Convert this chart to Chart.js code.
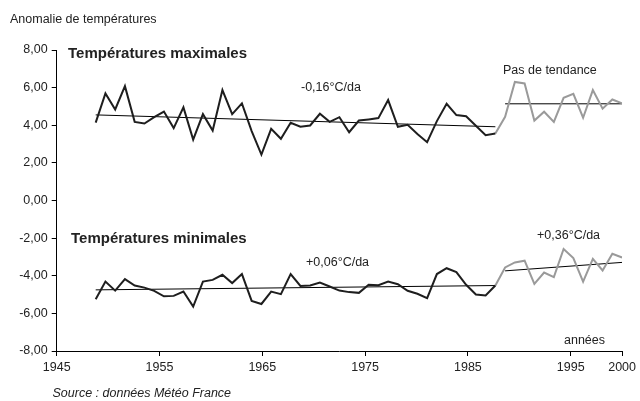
<!DOCTYPE html>
<html>
<head>
<meta charset="utf-8">
<script src="https://cdn.jsdelivr.net/npm/chart.js@4"></script>
<style>
  html, body { margin: 0; padding: 0; background: #fff; }
  #wrap { width: 640px; height: 401px; position: relative; }
</style>
</head>
<body>
<div id="wrap"><canvas id="c" width="640" height="401"></canvas></div>
<script>
// ---- data ----
const yearsRecent = [1987,1988,1989,1990,1991,1992,1993,1994,1995,1996,1997,1998,1999,2000];
const yearsOld = [1946,1947,1948,1949,1950,1951,1952,1953,1954,1955,1956,1957,1958,1959,1960,1961,1962,1963,1964,1965,
                  1966,1967,1968,1969,1970,1971,1972,1973,1974,1975,1976,1977,1978,1979,1980,1981,1982,1983,1984,1985,1986,1987];
const tmaxOld = [4.14,5.69,4.84,6.08,4.18,4.09,4.43,4.73,3.85,4.95,3.24,4.59,3.72,5.87,4.59,5.16,3.69,2.44,3.81,3.28,
                 4.13,3.92,3.99,4.61,4.18,4.43,3.63,4.25,4.31,4.38,5.34,3.92,4.02,3.54,3.10,4.22,5.14,4.54,4.48,3.97,3.47,3.56];
const tmaxRecent = [3.56,4.45,6.30,6.22,4.25,4.72,4.18,5.46,5.67,4.40,5.87,4.88,5.37,5.16];
const tminOld = [-5.25,-4.31,-4.79,-4.18,-4.52,-4.63,-4.80,-5.09,-5.07,-4.84,-5.64,-4.31,-4.22,-3.95,-4.39,-3.91,-5.34,-5.50,-4.84,-4.98,
                 -3.91,-4.54,-4.52,-4.36,-4.57,-4.79,-4.87,-4.91,-4.48,-4.50,-4.31,-4.45,-4.80,-4.96,-5.19,-3.91,-3.60,-3.81,-4.48,-5.00,-5.05,-4.52];
const tminRecent = [-4.52,-3.56,-3.29,-3.20,-4.43,-3.83,-4.07,-2.58,-3.06,-4.31,-3.10,-3.72,-2.83,-3.03];
// trend lines (endpoints)
const trendOldYears = [1946, 1987];
const trendRecentYears = [1988, 2000];
const trendMaxOld = [4.55, 3.92];
const trendMaxRecent = [5.14, 5.14];
const trendMinOld = [-4.75, -4.52];
const trendMinRecent = [-3.74, -3.29];
// axis tick labels
const xTickYears = [1945, 1955, 1965, 1975, 1985, 1995, 2000];
const yTicks = [-8, -6, -4, -2, 0, 2, 4, 6, 8];
// texts
const yTitle = 'Anomalie de températures';
const titleMax = 'Températures maximales';
const titleMin = 'Températures minimales';
const labelMaxOld = '-0,16°C/da';
const labelMaxRecent = 'Pas de tendance';
const labelMinOld = '+0,06°C/da';
const labelMinRecent = '+0,36°C/da';
const xTitle = 'années';
const sourceText = 'Source : données Météo France';

const pts = (xs, ys) => xs.map((x, i) => ({ x: x, y: ys[i] }));

const FONT = '"Liberation Sans", Arial, sans-serif';
const TXT = '#222';
const BLACK = '#1e1e1e';
const GREY = '#9a9a9a';

const base = { pointRadius: 0, pointHoverRadius: 0, tension: 0, fill: false, xAxisID: 'xd', yAxisID: 'y' };

const textPlugin = {
  id: 'texts',
  afterDraw(chart) {
    const ctx = chart.ctx;
    ctx.save();
    ctx.fillStyle = TXT;
    ctx.textAlign = 'left';
    ctx.textBaseline = 'alphabetic';
    const put = (t, x, y, f) => { ctx.font = f; ctx.fillText(t, x, y); };
    const reg = '12.5px ' + FONT;
    put(yTitle, 10, 23, reg);
    put(titleMax, 68, 58, 'bold 15px ' + FONT);
    put(titleMin, 71, 243, 'bold 15px ' + FONT);
    put(labelMaxOld, 301, 90.5, reg);
    put(labelMaxRecent, 503, 74, reg);
    put(labelMinOld, 306, 266, reg);
    put(labelMinRecent, 537, 238.5, reg);
    put(xTitle, 564, 344, reg);
    put(sourceText, 52.5, 396.5, 'italic 12.5px ' + FONT);
    ctx.restore();
  }
};

new Chart(document.getElementById('c'), {
  type: 'line',
  data: {
    datasets: [
      Object.assign({}, base, { data: pts(yearsOld, tmaxOld), borderColor: BLACK, borderWidth: 2 }),
      Object.assign({}, base, { data: pts(yearsRecent, tmaxRecent), borderColor: GREY, borderWidth: 2 }),
      Object.assign({}, base, { data: pts(yearsOld, tminOld), borderColor: BLACK, borderWidth: 2 }),
      Object.assign({}, base, { data: pts(yearsRecent, tminRecent), borderColor: GREY, borderWidth: 2 }),
      Object.assign({}, base, { data: pts(trendOldYears, trendMaxOld), borderColor: '#000', borderWidth: 1 }),
      Object.assign({}, base, { data: pts(trendRecentYears, trendMaxRecent), borderColor: '#000', borderWidth: 1 }),
      Object.assign({}, base, { data: pts(trendOldYears, trendMinOld), borderColor: '#000', borderWidth: 1 }),
      Object.assign({}, base, { data: pts(trendRecentYears, trendMinRecent), borderColor: '#000', borderWidth: 1 })
    ]
  },
  options: {
    responsive: false,
    animation: false,
    devicePixelRatio: 1,
    layout: { padding: { top: 50, right: 14.3, bottom: 0, left: 0 } },
    plugins: { legend: { display: false }, tooltip: { enabled: false }, title: { display: false } },
    events: [],
    scales: {
      x: {
        type: 'linear', position: 'bottom', min: 1945, max: 2000,
        afterBuildTicks: (s) => { s.ticks = xTickYears.map(v => ({ value: v })); },
        afterFit: (s) => { s.height = 50; },
        ticks: { autoSkip: false, maxRotation: 0, padding: 4, color: TXT,
                 font: { family: FONT, size: 12.5 }, callback: (v) => String(v) },
        grid: { display: true, drawOnChartArea: false, drawTicks: true, tickLength: 5, color: '#000', lineWidth: 1 },
        border: { display: true, color: '#000', width: 1 }
      },
      xd: {
        type: 'linear', position: 'bottom', min: 1942, max: 2000, display: false
      },
      y: {
        type: 'linear', position: 'left', min: -8, max: 8,
        afterBuildTicks: (s) => { s.ticks = yTicks.map(v => ({ value: v })); },
        afterFit: (s) => { s.width = 56.7; },
        ticks: { padding: 4, color: TXT, font: { family: FONT, size: 12.5 },
                 callback: (v) => Number(v).toFixed(2).replace('.', ',') },
        grid: { display: true, drawOnChartArea: false, drawTicks: true, tickLength: 5, color: '#000', lineWidth: 1 },
        border: { display: true, color: '#000', width: 1 }
      }
    }
  },
  plugins: [textPlugin]
});
</script>
</body>
</html>
